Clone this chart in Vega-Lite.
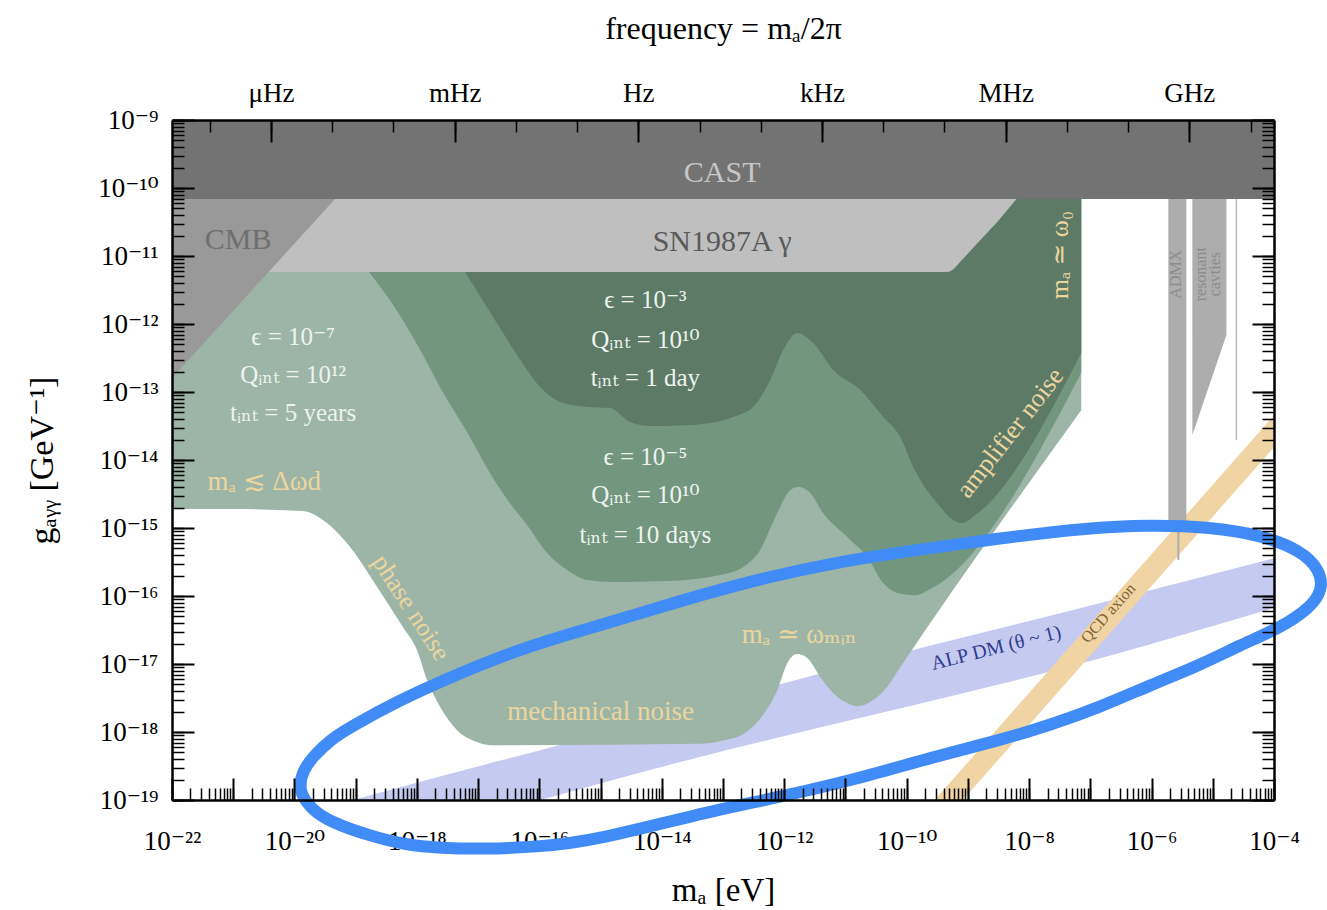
{
"$schema": "https://vega.github.io/schema/vega-lite/v6.json",
"width": 1102, "height": 680,
"autosize": {"type": "none"},
"padding": {"left": 172, "top": 120, "right": 53, "bottom": 110},
"background": "white",
"config": {"view": {"stroke": null},
  "axis": {"grid": false, "labelFont": "Liberation Serif, DejaVu Serif", "titleFont": "Liberation Serif, DejaVu Serif", "labelColor": "black", "titleColor": "black", "tickColor": "black", "domainColor": "black", "labelFlush": false, "labelOverlap": false}},
"resolve": {"axis": {"x": "independent", "y": "independent"}},
"datasets": {
"cast": [{"x1": 1e-22, "x2": 1e-4, "g1": 6.89e-11, "g2": 1e-9}],
"sn": [{"m":1e-22,"g":5.82e-12},{"m":4.6e-10,"g":5.82e-12},{"m":5.8e-10,"g":6.4e-12},{"m":7.5e-10,"g":8.2e-12},{"m":1.6e-9,"g":1.72e-11},{"m":3.4e-9,"g":3.6e-11},{"m":6.2e-9,"g":6.89e-11}],
"cmb": [{"m":1e-22,"g":1.61e-13},{"m":4.6e-20,"g":6.89e-11}],
"light": [{"m":1e-22,"g":1.9e-15},{"m":8.5e-22,"g":1.9e-15},{"m":1.38e-20,"g":1.78e-15},{"m":3.4e-20,"g":1.18e-15},{"m":8.1e-20,"g":5.25e-16},{"m":2.24e-19,"g":1.36e-16},{"m":5.9e-19,"g":3.5e-17},{"m":1.0e-18,"g":1.61e-17},{"m":1.47e-18,"g":5.8e-18},{"m":2.4e-18,"g":2.33e-18},{"m":4.5e-18,"g":1.07e-18},{"m":9.6e-18,"g":7.1e-19},{"m":1.57e-17,"g":6.4e-19},{"m":4.2e-14,"g":6.7e-19},{"m":1.09e-13,"g":7.6e-19},{"m":2.3e-13,"g":9.7e-19},{"m":4.5e-13,"g":1.78e-18},{"m":7.7e-13,"g":4.1e-18},{"m":1.12e-12,"g":1.03e-17},{"m":1.63e-12,"g":1.4e-17},{"m":2.4e-12,"g":1.22e-17},{"m":3.9e-12,"g":6.4e-18},{"m":6.3e-12,"g":3.75e-18},{"m":1.07e-11,"g":2.67e-18},{"m":1.56e-11,"g":2.4e-18},{"m":2.85e-11,"g":2.96e-18},{"m":4.8e-11,"g":4.6e-18},{"m":7.9e-11,"g":9.0e-18},{"m":7.1e-8,"g":5.4e-14}],
"medium": [{"m":1.66e-19,"g":5.82e-12},{"m":4.1e-19,"g":1.9e-12},{"m":1.13e-18,"g":4.15e-13},{"m":2.7e-18,"g":9.7e-14},{"m":6.6e-18,"g":2.58e-14},{"m":1.76e-17,"g":5.4e-15},{"m":3.3e-17,"g":2.33e-15},{"m":6.3e-17,"g":1.11e-15},{"m":1.34e-16,"g":4.3e-16},{"m":2.85e-16,"g":2.41e-16},{"m":6.0e-16,"g":1.72e-16},{"m":1.61e-15,"g":1.61e-16},{"m":1.23e-14,"g":1.66e-16},{"m":9.0e-14,"g":2.04e-16},{"m":2.14e-13,"g":2.67e-16},{"m":4.05e-13,"g":4.75e-16},{"m":7.7e-13,"g":1.66e-15},{"m":1.25e-12,"g":3.6e-15},{"m":1.69e-12,"g":4.0e-15},{"m":2.66e-12,"g":3.27e-15},{"m":4.3e-12,"g":1.66e-15},{"m":1.07e-11,"g":7.4e-16},{"m":2.27e-11,"g":3.75e-16},{"m":4.15e-11,"g":1.55e-16},{"m":7.0e-11,"g":1.11e-16},{"m":1.38e-10,"g":1.03e-16},{"m":2.62e-10,"g":1.31e-16},{"m":7.1e-8,"g":1.9e-13}],
"dark": [{"m":6.1e-18,"g":5.82e-12},{"m":1.76e-17,"g":1.27e-12},{"m":4.9e-17,"g":2.96e-13},{"m":1.03e-16,"g":1.18e-13},{"m":2.19e-16,"g":7.1e-14},{"m":6.0e-16,"g":6.0e-14},{"m":1.44e-15,"g":5.8e-14},{"m":3.05e-15,"g":3.6e-14},{"m":7.2e-15,"g":3.16e-14},{"m":2.9e-14,"g":3.27e-14},{"m":1.47e-13,"g":4.3e-14},{"m":3.1e-13,"g":6.0e-14},{"m":5.9e-13,"g":1.5e-13},{"m":9.6e-13,"g":4.15e-13},{"m":1.63e-12,"g":7.4e-13},{"m":2.98e-12,"g":5.25e-13},{"m":6.3e-12,"g":2.11e-13},{"m":1.75e-11,"g":1.07e-13},{"m":4.15e-11,"g":4.3e-14},{"m":7.9e-11,"g":2.18e-14},{"m":1.28e-10,"g":7.9e-15},{"m":3.54e-10,"g":2.04e-15},{"m":5.2e-10,"g":1.4e-15},{"m":8.1e-10,"g":1.18e-15},{"m":1.32e-9,"g":1.55e-15},{"m":7.1e-8,"g":3.75e-13}],
"alp": [{"m":9.1e-20,"lo":1.84e-20,"hi":1e-19},{"m":2.56e-17,"lo":7.1e-20,"hi":3.9e-19},{"m":1.03e-16,"lo":1e-19,"hi":5.4e-19},{"m":4.2e-14,"lo":4.3e-19,"hi":2.37e-18},{"m":7.7e-13,"lo":8.2e-19,"hi":4.9e-18},{"m":1.46e-7,"lo":1.22e-17,"hi":7.9e-17},{"m":1e-4,"lo":6.7e-17,"hi":3.6e-16}],
"qcd": [{"m":7.9e-11,"lo":9.1e-21,"hi":2.69e-20},{"m":1.27e-4,"lo":1.97e-14,"hi":5.8e-14}],
"admx": [{"x1":1.88e-6,"x2":3.7e-6,"g1":1.11e-15,"g2":6.89e-11}],
"admxline": [{"m":2.74e-6,"g1":3.4e-16,"g2":1.11e-15}],
"rescav": [{"m":4.64e-6,"g":2.33e-14},{"m":1.67e-5,"g":6.9e-13}],
"thin": [{"m":2.43e-5,"g1":1.97e-14,"g2":6.89e-11}],
"ellipse": [{"i":0,"m":1.15e-20,"g":1.4e-19},{"i":1,"m":1.38e-20,"g":2.76e-19},{"i":2,"m":2.0e-20,"g":4.3e-19},{"i":3,"m":3.8e-20,"g":7.6e-19},{"i":4,"m":8.1e-20,"g":1.18e-18},{"i":5,"m":5.3e-19,"g":2.96e-18},{"i":6,"m":3.5e-18,"g":6.4e-18},{"i":7,"m":4.3e-17,"g":1.61e-17},{"i":8,"m":5.2e-16,"g":3.16e-17},{"i":9,"m":6.5e-15,"g":6.2e-17},{"i":10,"m":4.2e-14,"g":1.03e-16},{"i":11,"m":5.3e-13,"g":1.9e-16},{"i":12,"m":6.3e-12,"g":3.06e-16},{"i":13,"m":7.9e-11,"g":4.4e-16},{"i":14,"m":3.4e-9,"g":7.1e-16},{"i":15,"m":8.3e-8,"g":1.0e-15},{"i":16,"m":9.6e-7,"g":1.11e-15},{"i":17,"m":9.1e-6,"g":1.03e-15},{"i":18,"m":6.0e-5,"g":7.9e-16},{"i":19,"m":2.7e-4,"g":4.75e-16},{"i":20,"m":5.7e-4,"g":2.41e-16},{"i":21,"m":6.2e-4,"g":1.22e-16},{"i":22,"m":3.9e-4,"g":6.7e-17},{"i":23,"m":1.27e-4,"g":3.4e-17},{"i":24,"m":2.8e-5,"g":1.9e-17},{"i":25,"m":6.3e-6,"g":9.7e-18},{"i":26,"m":9.6e-7,"g":4.9e-18},{"i":27,"m":1.46e-7,"g":2.33e-18},{"i":28,"m":2.22e-8,"g":1.27e-18},{"i":29,"m":3.4e-9,"g":7.6e-19},{"i":30,"m":2.72e-10,"g":4.3e-19},{"i":31,"m":1.75e-11,"g":2.1e-19},{"i":32,"m":8.6e-13,"g":1.11e-19},{"i":33,"m":3.8e-14,"g":6.2e-20},{"i":34,"m":8.8e-16,"g":2.58e-20},{"i":35,"m":1.03e-16,"g":2.04e-20},{"i":36,"m":1.21e-17,"g":1.9e-20},{"i":37,"m":2.4e-18,"g":1.97e-20},{"i":38,"m":6.7e-19,"g":2.18e-20},{"i":39,"m":1.72e-19,"g":2.96e-20},{"i":40,"m":3.8e-20,"g":4.75e-20},{"i":41,"m":1.8e-20,"g":7.6e-20}],
"labels": [
{"grp":"cast","m":9.7e-14,"g":1.66e-10,"t":"CAST"},
{"grp":"cmb","m":1.2e-21,"g":1.72e-11,"t":"CMB"},
{"grp":"sn","m":9.7e-14,"g":1.61e-11,"t":"SN1987A γ"},
{"grp":"white","m":9.5e-21,"g":6.4e-13,"t":"ϵ = 10⁻⁷"},
{"grp":"white","m":9.5e-21,"g":1.78e-13,"t":"Qᵢₙₜ = 10¹²"},
{"grp":"white","m":9.5e-21,"g":4.9e-14,"t":"tᵢₙₜ = 5 years"},
{"grp":"white","m":5.4e-15,"g":2.25e-12,"t":"ϵ = 10⁻³"},
{"grp":"white","m":5.4e-15,"g":5.8e-13,"t":"Qᵢₙₜ = 10¹⁰"},
{"grp":"white","m":5.4e-15,"g":1.61e-13,"t":"tᵢₙₜ = 1 day"},
{"grp":"white","m":5.4e-15,"g":1.11e-14,"t":"ϵ = 10⁻⁵"},
{"grp":"white","m":5.4e-15,"g":3.06e-15,"t":"Qᵢₙₜ = 10¹⁰"},
{"grp":"white","m":5.4e-15,"g":7.9e-16,"t":"tᵢₙₜ = 10 days"},
{"grp":"yellow","m":3.2e-21,"g":4.75e-15,"t":"mₐ ≲ Δωd"},
{"grp":"yellow","m":1e-15,"g":1.97e-18,"t":"mechanical noise"},
{"grp":"yellow","m":1.76e-12,"g":2.67e-17,"t":"mₐ ≃ ωₘᵢₙ"},
{"grp":"phase","m":8.0e-19,"g":6.7e-17,"t":"phase noise"},
{"grp":"amp","m":4.9e-9,"g":2.5e-14,"t":"amplifier noise"},
{"grp":"w0","m":3.2e-8,"g":1.03e-11,"t":"mₐ ≃ ω₀"},
{"grp":"alp","m":2.9e-9,"g":1.72e-17,"t":"ALP DM (θ ~ 1)"},
{"grp":"qcd","m":1.97e-7,"g":5.6e-17,"t":"QCD axion"},
{"grp":"gray","m":2.54e-6,"g":5.4e-12,"t":"ADMX"},
{"grp":"gray","m":6.5e-6,"g":5.4e-12,"t":"resonant"},
{"grp":"gray","m":1.1e-5,"g":5.4e-12,"t":"cavties"}
]
},
"layer": [
{"data": {"name": "cast"}, "mark": {"type": "rect", "color": "#737373"},
 "encoding": {
  "x": {"field": "x1", "type": "quantitative", "scale": {"type": "log", "domain": [1e-22, 1e-4], "nice": false},
    "axis": {"orient": "bottom", "values": [1e-22,1e-20,1e-18,1e-16,1e-14,1e-12,1e-10,1e-8,1e-6,1e-4],
      "labelExpr": "'10' + replace(replace(replace(replace(replace(replace(replace(replace(replace(replace(replace('' + round(log(datum.value) / LN10), '-', '⁻'), regexp('0', 'g'), '⁰'), regexp('1', 'g'), '¹'), regexp('2', 'g'), '²'), regexp('3', 'g'), '³'), regexp('4', 'g'), '⁴'), regexp('5', 'g'), '⁵'), regexp('6', 'g'), '⁶'), regexp('7', 'g'), '⁷'), regexp('8', 'g'), '⁸'), regexp('9', 'g'), '⁹')",
      "ticks": false, "tickSize": 0, "domain": false, "labelFontSize": 27, "labelPadding": 49, "labelBaseline": "alphabetic",
      "title": "mₐ  [eV]", "titleFontSize": 33, "titleFontWeight": "normal", "titleY": 90, "titleBaseline": "middle", "zindex": 0}},
  "x2": {"field": "x2"},
  "y": {"field": "g1", "type": "quantitative", "scale": {"type": "log", "domain": [1e-19, 1e-9], "nice": false},
    "axis": {"orient": "left", "values": [1e-19,1e-18,1e-17,1e-16,1e-15,1e-14,1e-13,1e-12,1e-11,1e-10,1e-9],
      "labelExpr": "'10' + replace(replace(replace(replace(replace(replace(replace(replace(replace(replace(replace('' + round(log(datum.value) / LN10), '-', '⁻'), regexp('0', 'g'), '⁰'), regexp('1', 'g'), '¹'), regexp('2', 'g'), '²'), regexp('3', 'g'), '³'), regexp('4', 'g'), '⁴'), regexp('5', 'g'), '⁵'), regexp('6', 'g'), '⁶'), regexp('7', 'g'), '⁷'), regexp('8', 'g'), '⁸'), regexp('9', 'g'), '⁹')",
      "ticks": false, "tickSize": 0, "domain": false, "labelFontSize": 27, "labelPadding": 14, "labelBaseline": "middle",
      "title": "gₐᵧᵧ  [GeV⁻¹]", "titleFontSize": 34, "titleFontWeight": "normal", "titleX": -130, "titleY": 340, "titleBaseline": "middle", "zindex": 0}},
  "y2": {"field": "g2"}}},
{"data": {"name": "alp"}, "mark": {"type": "area", "color": "#c4caf0", "clip": true, "interpolate": "monotone"},
 "encoding": {
  "x": {"field": "m", "type": "quantitative", "scale": {"type": "log", "domain": [1e-22, 1e-4], "nice": false}, "axis": null},
  "y": {"field": "lo", "type": "quantitative", "scale": {"type": "log", "domain": [1e-19, 1e-9], "nice": false}, "axis": null},
  "y2": {"field": "hi"}}},
{"data": {"name": "light"}, "mark": {"type": "area", "color": "#9db5a6", "interpolate": "monotone"},
 "encoding": {
  "x": {"field": "m", "type": "quantitative", "scale": {"type": "log", "domain": [1e-22, 1e-4], "nice": false},
    "axis": {"orient": "top", "values": [4.136e-21, 4.136e-18, 4.136e-15, 4.136e-12, 4.136e-9, 4.136e-6],
      "labelExpr": "datum.value < 1e-20 ? 'μHz' : datum.value < 1e-17 ? 'mHz' : datum.value < 1e-14 ? 'Hz' : datum.value < 1e-11 ? 'kHz' : datum.value < 1e-8 ? 'MHz' : 'GHz'",
      "ticks": false, "tickSize": 0, "domain": false, "labelFontSize": 27, "labelPadding": 19, "labelBaseline": "alphabetic",
      "title": "frequency = mₐ/2π", "titleFontSize": 32, "titleFontWeight": "normal", "titleY": -92, "titleBaseline": "middle", "zindex": 0}},
  "y": {"field": "g", "type": "quantitative", "scale": {"type": "log", "domain": [1e-19, 1e-9], "nice": false},
    "axis": {"orient": "right", "values": [1e-19,1e-18,1e-17,1e-16,1e-15,1e-14,1e-13,1e-12,1e-11,1e-10,1e-9], "labels": false, "tickSize": -22, "tickWidth": 2, "domain": true, "domainWidth": 2.5, "title": null, "zindex": 1}},
  "y2": {"datum": 6.89e-11}}},
{"data": {"name": "medium"}, "mark": {"type": "area", "color": "#73967f", "interpolate": "monotone"},
 "encoding": {
  "x": {"field": "m", "type": "quantitative", "scale": {"type": "log", "domain": [1e-22, 1e-4], "nice": false},
    "axis": {"orient": "top", "values": [4.136e-21, 4.136e-18, 4.136e-15, 4.136e-12, 4.136e-9, 4.136e-6], "labels": false, "tickSize": -22, "tickWidth": 2, "domain": true, "domainWidth": 2.5, "title": null, "zindex": 1}},
  "y": {"field": "g", "type": "quantitative", "scale": {"type": "log", "domain": [1e-19, 1e-9], "nice": false},
    "axis": {"orient": "right", "tickCount": 120, "labels": false, "tickSize": -12, "tickWidth": 1.5, "domain": false, "title": null, "zindex": 1}},
  "y2": {"datum": 6.89e-11}}},
{"data": {"name": "dark"}, "mark": {"type": "area", "color": "#5c7a66", "interpolate": "monotone"},
 "encoding": {
  "x": {"field": "m", "type": "quantitative", "scale": {"type": "log", "domain": [1e-22, 1e-4], "nice": false},
    "axis": {"orient": "top", "values": [4.136e-22,4.136e-21,4.136e-20,4.136e-19,4.136e-18,4.136e-17,4.136e-16,4.136e-15,4.136e-14,4.136e-13,4.136e-12,4.136e-11,4.136e-10,4.136e-9,4.136e-8,4.136e-7,4.136e-6,4.136e-5], "labels": false, "tickSize": -12, "tickWidth": 1.5, "domain": false, "title": null, "zindex": 1}},
  "y": {"field": "g", "type": "quantitative", "scale": {"type": "log", "domain": [1e-19, 1e-9], "nice": false}, "axis": null},
  "y2": {"datum": 6.89e-11}}},
{"data": {"name": "sn"}, "mark": {"type": "area", "color": "#bfbfbf", "interpolate": "monotone"},
 "encoding": {
  "x": {"field": "m", "type": "quantitative", "scale": {"type": "log", "domain": [1e-22, 1e-4], "nice": false},
    "axis": {"orient": "bottom", "values": [1e-22,1e-21,1e-20,1e-19,1e-18,1e-17,1e-16,1e-15,1e-14,1e-13,1e-12,1e-11,1e-10,1e-9,1e-8,1e-7,1e-6,1e-5,1e-4], "labels": false, "tickSize": -22, "tickWidth": 2, "domain": true, "domainWidth": 2.5, "title": null, "zindex": 1}},
  "y": {"field": "g", "type": "quantitative", "scale": {"type": "log", "domain": [1e-19, 1e-9], "nice": false},
    "axis": {"orient": "left", "values": [1e-19,1e-18,1e-17,1e-16,1e-15,1e-14,1e-13,1e-12,1e-11,1e-10,1e-9], "labels": false, "tickSize": -22, "tickWidth": 2, "domain": true, "domainWidth": 2.5, "title": null, "zindex": 1}},
  "y2": {"datum": 6.89e-11}}},
{"data": {"name": "cmb"}, "mark": {"type": "area", "color": "#999999"},
 "encoding": {
  "x": {"field": "m", "type": "quantitative", "scale": {"type": "log", "domain": [1e-22, 1e-4], "nice": false},
    "axis": {"orient": "bottom", "tickCount": 200, "labels": false, "tickSize": -12, "tickWidth": 1.5, "domain": false, "title": null, "zindex": 1}},
  "y": {"field": "g", "type": "quantitative", "scale": {"type": "log", "domain": [1e-19, 1e-9], "nice": false},
    "axis": {"orient": "left", "tickCount": 120, "labels": false, "tickSize": -12, "tickWidth": 1.5, "domain": false, "title": null, "zindex": 1}},
  "y2": {"datum": 6.89e-11}}},
{"data": {"name": "qcd"}, "mark": {"type": "area", "color": "#f1d4a3", "clip": true},
 "encoding": {
  "x": {"field": "m", "type": "quantitative", "scale": {"type": "log", "domain": [1e-22, 1e-4], "nice": false}, "axis": null},
  "y": {"field": "lo", "type": "quantitative", "scale": {"type": "log", "domain": [1e-19, 1e-9], "nice": false}, "axis": null},
  "y2": {"field": "hi"}}},
{"data": {"name": "admx"}, "mark": {"type": "rect", "color": "#adadad"},
 "encoding": {
  "x": {"field": "x1", "type": "quantitative", "scale": {"type": "log", "domain": [1e-22, 1e-4], "nice": false}, "axis": null},
  "x2": {"field": "x2"},
  "y": {"field": "g1", "type": "quantitative", "scale": {"type": "log", "domain": [1e-19, 1e-9], "nice": false}, "axis": null},
  "y2": {"field": "g2"}}},
{"data": {"name": "admxline"}, "mark": {"type": "rule", "color": "#adadad", "strokeWidth": 2},
 "encoding": {
  "x": {"field": "m", "type": "quantitative", "scale": {"type": "log", "domain": [1e-22, 1e-4], "nice": false}, "axis": null},
  "y": {"field": "g1", "type": "quantitative", "scale": {"type": "log", "domain": [1e-19, 1e-9], "nice": false}, "axis": null},
  "y2": {"field": "g2"}}},
{"data": {"name": "rescav"}, "mark": {"type": "area", "color": "#adadad"},
 "encoding": {
  "x": {"field": "m", "type": "quantitative", "scale": {"type": "log", "domain": [1e-22, 1e-4], "nice": false}, "axis": null},
  "y": {"field": "g", "type": "quantitative", "scale": {"type": "log", "domain": [1e-19, 1e-9], "nice": false}, "axis": null},
  "y2": {"datum": 6.89e-11}}},
{"data": {"name": "thin"}, "mark": {"type": "rule", "color": "#b8b8b8", "strokeWidth": 1.5},
 "encoding": {
  "x": {"field": "m", "type": "quantitative", "scale": {"type": "log", "domain": [1e-22, 1e-4], "nice": false}, "axis": null},
  "y": {"field": "g1", "type": "quantitative", "scale": {"type": "log", "domain": [1e-19, 1e-9], "nice": false}, "axis": null},
  "y2": {"field": "g2"}}},
{"data": {"name": "labels"}, "transform": [{"filter": "datum.grp == 'cast'"}],
 "mark": {"type": "text", "font": "Liberation Serif, DejaVu Serif", "fontSize": 30, "color": "#c6c6c6", "align": "center", "baseline": "middle"},
 "encoding": {"x": {"field": "m", "type": "quantitative", "scale": {"type": "log", "domain": [1e-22, 1e-4], "nice": false}, "axis": null},
  "y": {"field": "g", "type": "quantitative", "scale": {"type": "log", "domain": [1e-19, 1e-9], "nice": false}, "axis": null}, "text": {"field": "t"}}},
{"data": {"name": "labels"}, "transform": [{"filter": "datum.grp == 'cmb'"}],
 "mark": {"type": "text", "font": "Liberation Serif, DejaVu Serif", "fontSize": 30, "color": "#6f6f6f", "align": "center", "baseline": "middle"},
 "encoding": {"x": {"field": "m", "type": "quantitative", "scale": {"type": "log", "domain": [1e-22, 1e-4], "nice": false}, "axis": null},
  "y": {"field": "g", "type": "quantitative", "scale": {"type": "log", "domain": [1e-19, 1e-9], "nice": false}, "axis": null}, "text": {"field": "t"}}},
{"data": {"name": "labels"}, "transform": [{"filter": "datum.grp == 'sn'"}],
 "mark": {"type": "text", "font": "Liberation Serif, DejaVu Serif", "fontSize": 30, "color": "#5a5a5a", "align": "center", "baseline": "middle"},
 "encoding": {"x": {"field": "m", "type": "quantitative", "scale": {"type": "log", "domain": [1e-22, 1e-4], "nice": false}, "axis": null},
  "y": {"field": "g", "type": "quantitative", "scale": {"type": "log", "domain": [1e-19, 1e-9], "nice": false}, "axis": null}, "text": {"field": "t"}}},
{"data": {"name": "labels"}, "transform": [{"filter": "datum.grp == 'white'"}],
 "mark": {"type": "text", "font": "Liberation Serif, DejaVu Serif", "fontSize": 25, "color": "#eef3ef", "align": "center", "baseline": "middle"},
 "encoding": {"x": {"field": "m", "type": "quantitative", "scale": {"type": "log", "domain": [1e-22, 1e-4], "nice": false}, "axis": null},
  "y": {"field": "g", "type": "quantitative", "scale": {"type": "log", "domain": [1e-19, 1e-9], "nice": false}, "axis": null}, "text": {"field": "t"}}},
{"data": {"name": "labels"}, "transform": [{"filter": "datum.grp == 'yellow'"}],
 "mark": {"type": "text", "font": "Liberation Serif, DejaVu Serif", "fontSize": 27, "color": "#ecd69f", "align": "center", "baseline": "middle"},
 "encoding": {"x": {"field": "m", "type": "quantitative", "scale": {"type": "log", "domain": [1e-22, 1e-4], "nice": false}, "axis": null},
  "y": {"field": "g", "type": "quantitative", "scale": {"type": "log", "domain": [1e-19, 1e-9], "nice": false}, "axis": null}, "text": {"field": "t"}}},
{"data": {"name": "labels"}, "transform": [{"filter": "datum.grp == 'phase'"}],
 "mark": {"type": "text", "font": "Liberation Serif, DejaVu Serif", "fontSize": 26, "color": "#ecd69f", "align": "center", "baseline": "middle", "angle": 57},
 "encoding": {"x": {"field": "m", "type": "quantitative", "scale": {"type": "log", "domain": [1e-22, 1e-4], "nice": false}, "axis": null},
  "y": {"field": "g", "type": "quantitative", "scale": {"type": "log", "domain": [1e-19, 1e-9], "nice": false}, "axis": null}, "text": {"field": "t"}}},
{"data": {"name": "labels"}, "transform": [{"filter": "datum.grp == 'amp'"}],
 "mark": {"type": "text", "font": "Liberation Serif, DejaVu Serif", "fontSize": 26, "color": "#ecd69f", "align": "center", "baseline": "middle", "angle": -52},
 "encoding": {"x": {"field": "m", "type": "quantitative", "scale": {"type": "log", "domain": [1e-22, 1e-4], "nice": false}, "axis": null},
  "y": {"field": "g", "type": "quantitative", "scale": {"type": "log", "domain": [1e-19, 1e-9], "nice": false}, "axis": null}, "text": {"field": "t"}}},
{"data": {"name": "labels"}, "transform": [{"filter": "datum.grp == 'w0'"}],
 "mark": {"type": "text", "font": "Liberation Serif, DejaVu Serif", "fontSize": 26, "color": "#ecd69f", "align": "center", "baseline": "middle", "angle": -90},
 "encoding": {"x": {"field": "m", "type": "quantitative", "scale": {"type": "log", "domain": [1e-22, 1e-4], "nice": false}, "axis": null},
  "y": {"field": "g", "type": "quantitative", "scale": {"type": "log", "domain": [1e-19, 1e-9], "nice": false}, "axis": null}, "text": {"field": "t"}}},
{"data": {"name": "labels"}, "transform": [{"filter": "datum.grp == 'alp'"}],
 "mark": {"type": "text", "font": "Liberation Serif, DejaVu Serif", "fontSize": 20, "color": "#2f3b8e", "align": "center", "baseline": "middle", "angle": -14},
 "encoding": {"x": {"field": "m", "type": "quantitative", "scale": {"type": "log", "domain": [1e-22, 1e-4], "nice": false}, "axis": null},
  "y": {"field": "g", "type": "quantitative", "scale": {"type": "log", "domain": [1e-19, 1e-9], "nice": false}, "axis": null}, "text": {"field": "t"}}},
{"data": {"name": "labels"}, "transform": [{"filter": "datum.grp == 'qcd'"}],
 "mark": {"type": "text", "font": "Liberation Serif, DejaVu Serif", "fontSize": 16, "color": "#7d6435", "align": "center", "baseline": "middle", "angle": -48.6},
 "encoding": {"x": {"field": "m", "type": "quantitative", "scale": {"type": "log", "domain": [1e-22, 1e-4], "nice": false}, "axis": null},
  "y": {"field": "g", "type": "quantitative", "scale": {"type": "log", "domain": [1e-19, 1e-9], "nice": false}, "axis": null}, "text": {"field": "t"}}},
{"data": {"name": "labels"}, "transform": [{"filter": "datum.grp == 'gray'"}],
 "mark": {"type": "text", "font": "Liberation Serif, DejaVu Serif", "fontSize": 16, "color": "#8c8c8c", "align": "center", "baseline": "middle", "angle": -90},
 "encoding": {"x": {"field": "m", "type": "quantitative", "scale": {"type": "log", "domain": [1e-22, 1e-4], "nice": false}, "axis": null},
  "y": {"field": "g", "type": "quantitative", "scale": {"type": "log", "domain": [1e-19, 1e-9], "nice": false}, "axis": null}, "text": {"field": "t"}}},
{"data": {"name": "ellipse"}, "mark": {"type": "line", "color": "#418bf6", "strokeWidth": 12, "interpolate": "basis-closed", "strokeCap": "round"},
 "encoding": {
  "x": {"field": "m", "type": "quantitative", "scale": {"type": "log", "domain": [1e-22, 1e-4], "nice": false}, "axis": null},
  "y": {"field": "g", "type": "quantitative", "scale": {"type": "log", "domain": [1e-19, 1e-9], "nice": false}, "axis": null},
  "order": {"field": "i", "type": "quantitative"}}}
]
}
